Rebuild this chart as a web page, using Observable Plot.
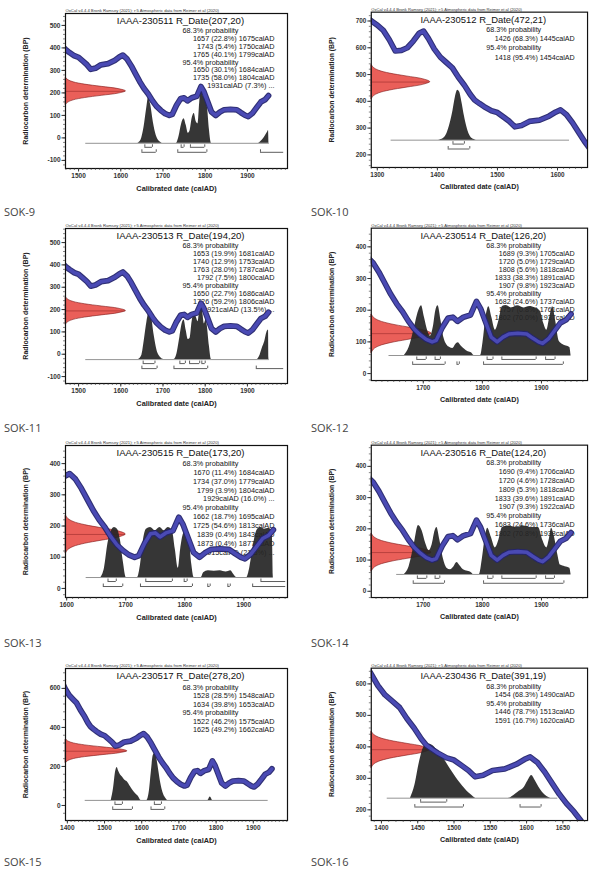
<!DOCTYPE html>
<html><head><meta charset="utf-8">
<script src="https://cdn.jsdelivr.net/npm/d3@7"></script>
<script src="https://cdn.jsdelivr.net/npm/@observablehq/plot@0.6"></script>
<style>
html,body{margin:0;padding:0;background:#fff;overflow:hidden}
#page{position:relative;width:591px;height:871px;overflow:hidden;background:#fff}
.panel{position:absolute}
.cap{position:absolute;font-family:"Open Sans","Noto Sans",sans-serif;font-size:11px;color:#444;line-height:14px;white-space:nowrap}
</style></head><body><div id="page"></div>
<script>
// ---------- shared calibration curve (IntCal20) ----------
const curveYear = [1285,1290,1300,1310,1320,1330,1340,1350,1360,1370,1377,1385,1395,1405,1415,1425,1435,1445,1455,1462,1470,1478,1490,1500,1511,1520,1529,1540,1553,1570,1586,1597,1605,1615,1625,1635,1645,1655,1665,1675,1685,1695,1705,1715,1722,1732,1742,1750,1758,1768,1780,1790,1797,1805,1815,1825,1835,1845,1860,1875,1885,1895,1902,1912,1922,1932,1942,1950];
const curveBP   = [710,700,685,665,630,588,590,600,625,655,662,635,595,565,545,525,490,460,425,405,392,380,365,358,340,325,305,310,325,330,345,360,368,350,320,285,250,220,195,165,140,122,108,100,105,145,175,178,165,178,185,228,205,165,115,100,115,125,127,125,112,100,95,110,135,160,170,188];

// red measurement distribution profile (relative width at offsets in sigma)
const redZ = [-3,-2.5,-2,-1.5,-1,-0.5,0,0.5,1,1.5,2,2.5,3];
const redW = [0.01,0.045,0.135,0.32,0.6,0.88,1,0.88,0.6,0.32,0.135,0.045,0.01];

// ---------- samples ----------
const sampleNames = ["SOK-9","SOK-10","SOK-11","SOK-12","SOK-13","SOK-14","SOK-15","SOK-16"];
const labCodes = ["IAAA-230511","IAAA-230512","IAAA-230513","IAAA-230514","IAAA-230515","IAAA-230516","IAAA-230517","IAAA-230436"];
const c14Ages = [207,472,194,126,173,124,278,391];
const c14Errors = [20,21,20,20,20,20,20,19];

// calibrated ranges: [from, percent, to]  (to = null : open-ended "...")
const r68_SOK9  = [[1657,22.8,1675],[1743,5.4,1750],[1765,40.1,1799]];
const r95_SOK9  = [[1650,30.1,1684],[1735,58.0,1804],[1931,7.3,null]];
const r68_SOK10 = [[1426,68.3,1445]];
const r95_SOK10 = [[1418,95.4,1454]];
const r68_SOK11 = [[1653,19.9,1681],[1740,12.9,1753],[1763,28.0,1787],[1792,7.5,1800]];
const r95_SOK11 = [[1650,22.7,1686],[1726,59.2,1806],[1921,13.5,null]];
const r68_SOK12 = [[1689,9.3,1705],[1720,5.0,1729],[1808,5.6,1818],[1833,38.3,1891],[1907,9.8,1923]];
const r95_SOK12 = [[1682,24.6,1737],[1757,0.8,1761],[1802,70.0,1937]];
const r68_SOK13 = [[1670,11.4,1684],[1734,37.0,1779],[1799,3.9,1804],[1929,16.0,null]];
const r95_SOK13 = [[1662,18.7,1695],[1725,54.6,1813],[1839,0.4,1843],[1873,0.4,1877],[1915,21.3,null]];
const r68_SOK14 = [[1690,9.4,1706],[1720,4.6,1728],[1809,5.3,1818],[1833,39.6,1891],[1907,9.3,1922]];
const r95_SOK14 = [[1683,24.6,1736],[1802,70.8,1938]];
const r68_SOK15 = [[1528,28.5,1548],[1634,39.8,1653]];
const r95_SOK15 = [[1522,46.2,1575],[1625,49.2,1662]];
const r68_SOK16 = [[1454,68.3,1490]];
const r95_SOK16 = [[1446,78.7,1513],[1591,16.7,1620]];

// calibrated probability distributions: [calAD, height (BP units above baseline)]
const post_SOK9 = [[1640,0],[1648,15],[1655,70],[1661,150],[1666,205],[1671,170],[1677,95],[1684,35],[1692,8],[1700,0],[1732,0],[1738,30],[1744,85],[1750,109],[1755,80],[1760,45],[1764,55],[1769,110],[1774,132],[1779,95],[1783,87],[1787,180],[1791,257],[1795,215],[1799,200],[1802,213],[1806,150],[1810,60],[1815,0],[1925,0],[1932,8],[1938,20],[1943,35],[1948,50],[1950,57],[1951,0]];
const post_SOK10 = [[1402,0],[1410,6],[1416,25],[1421,60],[1426,110],[1430,160],[1434,186],[1437,180],[1441,140],[1445,90],[1449,50],[1453,22],[1458,6],[1465,0]];
const post_SOK11 = [[1642,0],[1650,20],[1656,90],[1662,170],[1668,213],[1673,190],[1679,110],[1686,40],[1694,10],[1702,0],[1726,0],[1733,25],[1740,100],[1746,165],[1750,177],[1755,130],[1760,90],[1764,95],[1769,170],[1774,205],[1779,190],[1783,170],[1788,240],[1791,257],[1795,200],[1798,160],[1802,180],[1805,150],[1810,60],[1815,0],[1922,0],[1930,20],[1936,55],[1941,80],[1946,120],[1950,132],[1951,0]];
const post_SOK12 = [[1668,0],[1676,25],[1684,80],[1692,140],[1697,157],[1702,120],[1708,75],[1712,61],[1717,90],[1721,140],[1725,157],[1730,110],[1735,55],[1740,33],[1745,25],[1750,22],[1755,35],[1759,40],[1764,30],[1770,20],[1776,12],[1782,8],[1786,0],[1797,0],[1801,40],[1806,120],[1811,154],[1816,120],[1822,80],[1828,110],[1834,155],[1840,158],[1850,150],[1860,157],[1870,150],[1880,155],[1890,150],[1898,140],[1904,100],[1909,80],[1914,120],[1919,154],[1924,110],[1930,45],[1936,35],[1942,30],[1948,25],[1950,0]];
const post_SOK13 = [[1658,0],[1664,30],[1670,110],[1676,150],[1681,160],[1686,155],[1691,120],[1696,50],[1701,0],[1720,0],[1725,40],[1730,120],[1735,155],[1742,160],[1750,150],[1758,160],[1765,150],[1772,160],[1779,150],[1784,90],[1789,30],[1793,90],[1798,140],[1803,150],[1808,120],[1812,40],[1816,0],[1828,0],[1832,15],[1840,22],[1850,20],[1860,22],[1870,18],[1878,22],[1883,10],[1888,0],[1905,0],[1910,30],[1916,100],[1922,150],[1928,160],[1935,155],[1942,158],[1948,150],[1950,0]];
const post_SOK14 = [[1668,0],[1676,25],[1684,90],[1692,157],[1698,140],[1704,100],[1710,76],[1715,95],[1720,140],[1723,150],[1728,110],[1734,50],[1740,20],[1746,15],[1752,25],[1757,38],[1762,28],[1768,15],[1775,10],[1782,5],[1785,0],[1795,0],[1800,50],[1805,120],[1809,148],[1815,120],[1822,85],[1828,110],[1834,150],[1845,155],[1858,150],[1870,155],[1882,150],[1895,150],[1902,110],[1909,85],[1913,110],[1917,148],[1922,120],[1928,60],[1932,30],[1940,25],[1948,20],[1950,0]];
const post_SOK15 = [[1518,0],[1524,60],[1530,150],[1534,169],[1538,150],[1543,130],[1548,120],[1554,105],[1561,95],[1568,75],[1575,55],[1583,35],[1591,20],[1598,0],[1614,0],[1620,40],[1626,150],[1631,230],[1635,241],[1640,220],[1646,150],[1652,80],[1658,35],[1664,12],[1670,0],[1778,0],[1784,18],[1790,0]];
const post_SOK16 = [[1440,0],[1446,40],[1452,110],[1458,160],[1464,172],[1470,168],[1476,155],[1482,138],[1488,118],[1494,96],[1500,75],[1506,55],[1512,38],[1518,22],[1524,10],[1530,0],[1575,0],[1582,8],[1590,22],[1597,35],[1602,55],[1607,72],[1612,55],[1617,35],[1622,18],[1628,5],[1633,0]];

// tick labels
const xTicks_A = [1500,1600,1700,1800,1900];
const xTicks_B = [1300,1400,1500,1600];
const xTicks_C = [1700,1800,1900];
const xTicks_D = [1600,1700,1800,1900];
const xTicks_E = [1400,1500,1600,1700,1800,1900];
const xTicks_F = [1400,1450,1500,1550,1600,1650];
const yTicks_A = [-100,0,100,200,300,400,500];
const yTicks_B = [200,300,400,500,600,700];
const yTicks_C = [0,100,200,300,400];
const yTicks_E = [0,200,400,600];
const yTicks_F = [200,300,400,500,600];

const headerText = "OxCal v4.4.4 Bronk Ramsey (2021); r:5 Atmospheric data from Reimer et al (2020)";

// ---------- layout (positions / scales, not data) ----------
const layout = [
  {col:0, top:13,  h:155, x:[1469,1995], y:[-136,553], xt:xTicks_A, yt:yTicks_A, ym:20, tip:1612, open:1986, base:-24, span:[1517,1952], t0:17.5, ls:7.8, r68:r68_SOK9,  r95:r95_SOK9,  post:post_SOK9},
  {col:1, top:12,  h:158, x:[1290,1650], y:[153,733],  xt:xTicks_B, yt:yTicks_B, ym:20, tip:1388, open:1986, base:255, span:[1323,1620], t0:17.5, ls:9.5, r68:r68_SOK10, r95:r95_SOK10, post:post_SOK10},
  {col:0, top:228, h:155, x:[1469,1995], y:[-131,563], xt:xTicks_A, yt:yTicks_A, ym:20, tip:1612, open:1986, base:-24, span:[1517,1952], t0:17.5, ls:8,   r68:r68_SOK11, r95:r95_SOK11, post:post_SOK11},
  {col:1, top:228, h:155, x:[1612,1978], y:[-22,459],  xt:xTicks_C, yt:yTicks_C, ym:20, tip:1714, open:1975, base:57,  span:[1642,1950], t0:17.5, ls:8.2, r68:r68_SOK12, r95:r95_SOK12, post:post_SOK12},
  {col:0, top:445, h:152, x:[1598,1974], y:[-29,458],  xt:xTicks_D, yt:yTicks_C, ym:20, tip:1700, open:1971, base:35,  span:[1633,1950], t0:18,   ls:8.9, r68:r68_SOK13, r95:r95_SOK13, post:post_SOK13},
  {col:1, top:445, h:155, x:[1612,1978], y:[-20,468],  xt:xTicks_C, yt:yTicks_C, ym:20, tip:1714, open:1975, base:54,  span:[1655,1950], t0:18,   ls:9,   r68:r68_SOK14, r95:r95_SOK14, post:post_SOK14},
  {col:0, top:668, h:152, x:[1395,1992], y:[-77,702],  xt:xTicks_E, yt:yTicks_E, ym:40, tip:1561, open:1986, base:26,  span:[1448,1940], t0:19,   ls:8.5, r68:r68_SOK15, r95:r95_SOK15, post:post_SOK15},
  {col:1, top:668, h:155, x:[1386,1684], y:[166,650],  xt:xTicks_F, yt:yTicks_F, ym:20, tip:1467, open:1686, base:237, span:[1408,1643], t0:19,   ls:8.5, r68:r68_SOK16, r95:r95_SOK16, post:post_SOK16}
];
const captionCenters = [212,428,643,862];

const curveData = curveYear.map((y,i)=>({year:y, bp:curveBP[i]}));
const fmt = d => d[2] == null ? `${d[0]}calAD (${d[1].toFixed(1)}%) ...` : `${d[0]} (${d[1].toFixed(1)}%) ${d[2]}calAD`;

const page = document.getElementById("page");
const MT = 20, MB = 34;

layout.forEach((L, k) => {
  const left = L.col === 0 ? 0 : 300;
  const width = L.col === 0 ? 300 : 296;
  const mL = L.col === 0 ? 65 : 72;
  const mR = L.col === 0 ? 13 : 4;
  const x0 = L.x[0], yMin = L.y[0];
  const bp = c14Ages[k], sd = c14Errors[k];
  const red = redZ.map((z,i)=>({y: bp + z*sd, x2: x0 + redW[i]*(L.tip - x0)}));
  const lines = [{t:"68.3% probability", h:true}, ...L.r68.map(d=>({t:fmt(d)})), {t:"95.4% probability", h:true}, ...L.r95.map(d=>({t:fmt(d)}))];
  const textMarks = lines.map((ln,i)=> Plot.text([ln.t], {
    frameAnchor: ln.h ? "top-left" : "top-right", dx: ln.h ? 117 : -13, dy: L.t0 + i*L.ls,
    textAnchor: ln.h ? "start" : "end", lineAnchor:"middle", fontSize: 7.3, fill:"#151515"}));
  const ends68 = L.r68.flatMap(d => d[2]==null ? [d[0]] : [d[0], d[2]]);
  const ends95 = L.r95.flatMap(d => d[2]==null ? [d[0]] : [d[0], d[2]]);
  const minorX = d3.range(Math.ceil(L.x[0]/10)*10, L.x[1], 10);
  const minorY = d3.range(Math.ceil(L.y[0]/L.ym)*L.ym, L.y[1], L.ym);
  const ruleStyle = {stroke:"#333", strokeWidth:0.8};

  const svg = Plot.plot({
    width, height: MT + L.h + MB,
    marginLeft: mL, marginRight: mR, marginTop: MT, marginBottom: MB,
    x: {domain: L.x, axis: null},
    y: {domain: L.y, axis: null},
    style: {fontFamily: "'Liberation Sans', Arial, sans-serif", background: "transparent", overflow: "visible"},
    marks: [
      Plot.text([headerText], {frameAnchor:"top-left", dy:-1.5, lineAnchor:"bottom", textAnchor:"start", fontSize:4.2, fill:"#333"}),
      Plot.text([`${labCodes[k]} R_Date(${bp},${sd})`], {frameAnchor:"top", dx:4, dy:7.5, lineAnchor:"middle", fontSize:9.6, fill:"#111"}),
      ...textMarks,
      Plot.areaX(red, {y:"y", x1:x0, x2:"x2", fill:"#e8514b", fillOpacity:0.92, stroke:"#7a1414", strokeWidth:0.6, curve:"catmull-rom"}),
      Plot.ruleY([bp], {x1:x0, x2:L.tip, stroke:"#8a2020", strokeWidth:0.5}),
      Plot.ruleY([L.base], {x1:L.span[0], x2:L.span[1], stroke:"#777", strokeWidth:0.8}),
      Plot.areaY(L.post, {x:d=>d[0], y1:L.base, y2:d=>L.base + d[1], fill:"#252525", fillOpacity:0.92, curve:"monotone-x"}),
      Plot.ruleY(L.r68, {y:L.base, x1:d=>d[0], x2:d=>d[2]==null?L.open:d[2], dy:4, ...ruleStyle}),
      Plot.ruleX(ends68, {x:d=>d, y1:L.base, y2:L.base, dy:4, insetTop:-2.5, ...ruleStyle}),
      Plot.ruleY(L.r95, {y:L.base, x1:d=>d[0], x2:d=>d[2]==null?L.open:d[2], dy:9, ...ruleStyle}),
      Plot.ruleX(ends95, {x:d=>d, y1:L.base, y2:L.base, dy:9, insetTop:-2.5, ...ruleStyle}),
      Plot.line(curveData, {x:"year", y:"bp", stroke:"#25256e", strokeWidth:5.8, strokeOpacity:0.95, clip:true}),
      Plot.line(curveData, {x:"year", y:"bp", stroke:"#4a4ab4", strokeWidth:3.6, clip:true}),
      Plot.frame({stroke:"#111", strokeWidth:1.2}),
      Plot.ruleX(minorX, {x:d=>d, y1:yMin, y2:yMin, insetBottom:-2, stroke:"#333", strokeWidth:0.6}),
      Plot.ruleY(minorY, {y:d=>d, x1:x0, x2:x0, insetLeft:-2, stroke:"#333", strokeWidth:0.6}),
      Plot.axisX({ticks:L.xt, tickSize:3.5, tickPadding:1.5, tickFormat:d=>String(d), fontSize:6.5, fontWeight:"bold", color:"#333", label:null}),
      Plot.axisY({ticks:L.yt, tickSize:3.5, tickPadding:1.5, tickFormat:d=>String(d), fontSize:6.5, fontWeight:"bold", color:"#333", label:null}),
      Plot.text(["Calibrated date (calAD)"], {frameAnchor:"bottom", dy:20, lineAnchor:"middle", fontSize:7.3, fontWeight:"bold", fill:"#222"}),
      Plot.text(["Radiocarbon determination (BP)"], {frameAnchor:"left", dx:-40, rotate:-90, textAnchor:"middle", lineAnchor:"middle", fontSize:7, fontWeight:"bold", fill:"#222"})
    ]
  });
  const div = document.createElement("div");
  div.className = "panel";
  div.style.left = left + "px";
  div.style.top = (L.top - MT) + "px";
  div.appendChild(svg);
  page.appendChild(div);

  const cap = document.createElement("div");
  cap.className = "cap";
  cap.textContent = sampleNames[k];
  cap.style.left = (L.col === 0 ? 4 : 311) + "px";
  cap.style.top = (captionCenters[Math.floor(k/2)] - 7) + "px";
  page.appendChild(cap);
});
</script></body></html>
